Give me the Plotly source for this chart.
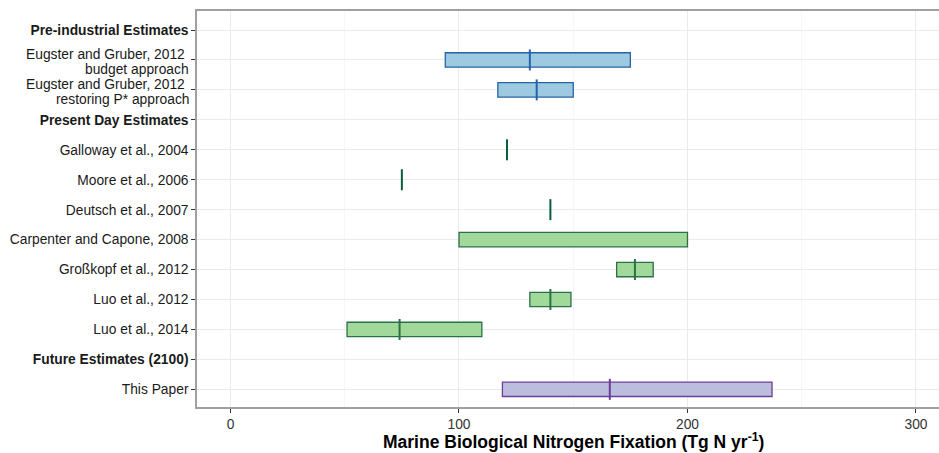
import plotly.graph_objects as go

labels = [
    "<b>Pre-industrial Estimates</b>",
    "Eugster and Gruber, 2012 \nbudget approach",
    "Eugster and Gruber, 2012 \nrestoring P* approach",
    "<b>Present Day Estimates</b>",
    "Galloway et al., 2004",
    "Moore et al., 2006",
    "Deutsch et al., 2007",
    "Carpenter and Capone, 2008",
    "Großkopf et al., 2012",
    "Luo et al., 2012",
    "Luo et al., 2014",
    "<b>Future Estimates (2100)</b>",
    "This Paper",
]

# range estimates (low, high, median); None = not given
low    = [None, 94, 117, None, None, None, None, 100, 169, 131, 51, None, 119]
high   = [None, 175, 150, None, None, None, None, 200, 185, 149, 110, None, 237]
median = [None, 131, 134, None, 121, 75, 140, None, 177, 140, 74, None, 166]
group  = [None, "pre", "pre", None, "present", "present", "present", "present",
          "present", "present", "present", None, "future"]

x_ticks = [0, 100, 200, 300]

styles = {
    "pre": dict(fill="#9ecae1", edge="#2563a8"),
    "present": dict(fill="#a1d99b", edge="#2a7048"),
    "future": dict(fill="#bcbddc", edge="#6a3d9a"),
}

FONT = "Liberation Sans, Arial, sans-serif"
TICK_SIZE = 13.8
FIG_W = 945  # panel runs past the 939px window on the right, as in the reference

ypos = list(range(len(labels)))

fig = go.Figure()
for g in ["pre", "present", "future"]:
    idx = [i for i in ypos if group[i] == g and low[i] is not None]
    fig.add_trace(go.Bar(
        orientation="h",
        y=[ypos[i] for i in idx],
        base=[low[i] for i in idx],
        x=[high[i] - low[i] for i in idx],
        width=0.48,
        marker=dict(color=styles[g]["fill"],
                    line=dict(color=styles[g]["edge"], width=1.3)),
        showlegend=False, hoverinfo="skip",
    ))
    idm = [i for i in ypos if group[i] == g and median[i] is not None and low[i] is not None]
    fig.add_trace(go.Scatter(
        x=[median[i] for i in idm], y=[ypos[i] for i in idm], mode="markers",
        marker=dict(symbol="line-ns", size=15,
                    line=dict(color=styles[g]["edge"], width=2)),
        showlegend=False, hoverinfo="skip",
    ))

# single-value estimates
ids = [i for i in ypos if median[i] is not None and low[i] is None]
fig.add_trace(go.Scatter(
    x=[median[i] for i in ids], y=[ypos[i] for i in ids], mode="markers",
    marker=dict(symbol="line-ns", size=15, line=dict(color="#0b5e3a", width=2)),
    showlegend=False, hoverinfo="skip",
))

# tick text: single-line labels as tick labels, two-line labels as tight annotations
ticktext = [("" if "\n" in t else t) for t in labels]
annotations = []
for i, t in enumerate(labels):
    if "\n" in t:
        first, second = t.split("\n")
        for line, shift in ((first, 5.6), (second, -9.8)):
            annotations.append(dict(
                xref="paper", yref="y", x=0, y=ypos[i], xanchor="right",
                yanchor="middle", xshift=-6, yshift=shift, showarrow=False,
                text=line, font=dict(family=FONT, size=TICK_SIZE, color="#1a1a1a"),
            ))

annotations.append(dict(
    xref="paper", yref="paper", x=(573 - 197) / (FIG_W - 197), y=0, yshift=-34,
    xanchor="center", yanchor="middle", showarrow=False,
    text="<b>Marine Biological Nitrogen Fixation (Tg N yr<sup>-1</sup>)</b>",
    font=dict(family=FONT, size=17.5, color="black"),
))

fig.update_layout(
    width=FIG_W, height=453,
    margin=dict(l=197, r=0, t=11, b=46),
    plot_bgcolor="white", paper_bgcolor="white",
    font=dict(family=FONT, size=TICK_SIZE, color="#1a1a1a"),
    barmode="overlay",
    annotations=annotations,
    xaxis=dict(
        automargin=False,
        range=[-14.66, 312.7], tickvals=x_ticks,
        showgrid=True, gridcolor="#ebebeb", gridwidth=1,
        minor=dict(tickvals=[50, 150, 250], showgrid=True, gridcolor="#f7f7f7", gridwidth=1),
        showline=True, linecolor="#a0a0a0", linewidth=1.5, mirror=True,
        ticks="outside", ticklen=4, tickcolor="#333333",
        tickfont=dict(size=TICK_SIZE, color="#333333"),
        zeroline=False,
    ),
    yaxis=dict(
        automargin=False,
        range=[12.59, -0.635],
        tickvals=ypos, ticktext=ticktext,
        showgrid=True, gridcolor="#ebebeb", gridwidth=1,
        showline=True, linecolor="#a0a0a0", linewidth=1.5, mirror=False,
        ticks="outside", ticklen=4, tickcolor="#333333",
        tickfont=dict(size=TICK_SIZE, color="#1a1a1a"),
        zeroline=False,
    ),
)

fig.write_html("out.html", config={"displayModeBar": False},
               post_script="document.body.style.margin='0';document.body.style.padding='0';"
                           "document.body.style.overflow='hidden';"
                           "document.documentElement.style.overflow='hidden';")
